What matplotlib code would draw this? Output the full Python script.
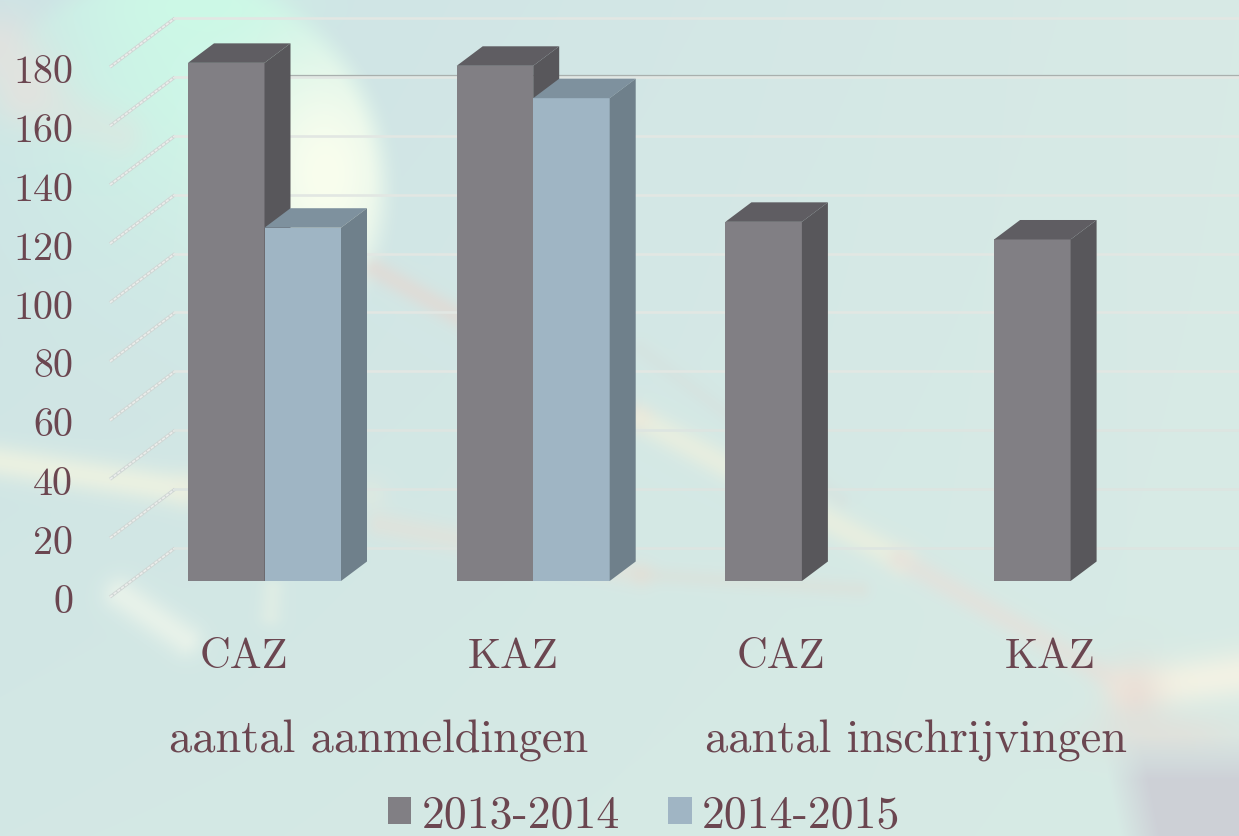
import numpy as np
import matplotlib
matplotlib.use("Agg")
import matplotlib.pyplot as plt
from matplotlib.patches import Patch, Polygon
from matplotlib.transforms import offset_copy, ScaledTranslation

plt.rcParams['font.family'] = ['cmr10', 'DejaVu Serif']
plt.rcParams['axes.formatter.use_mathtext'] = True

# ---- data ----
categories = ["CAZ", "KAZ", "CAZ", "KAZ"]
groups = ["aantal aanmeldingen", "aantal inschrijvingen"]
series_names = ["2013-2014", "2014-2015"]
values_2013 = [176, 175, 122, 116]
values_2014 = [120, 164, None, None]
y_ticks = [0, 20, 40, 60, 80, 100, 120, 140, 160, 180]

W, H = 1239, 837
TXT = "#6b4650"
PX_PER_UNIT = 2.944
PX_PER_CAT = 268.7
Y0_PX, X0_PX = 598, 244


def background():
    X, Y = np.meshgrid(np.arange(W), np.arange(H))
    t = (X / W)[..., None]
    img = (1 - t) * np.array([205., 227., 229.]) + t * np.array([216., 234., 230.])
    g = np.clip(Y / H, 0, 1)[..., None]
    img = img * (1 - 0.6 * g) + np.array([215., 235., 228.]) * 0.6 * g

    def blend(a, col):
        nonlocal img
        a = np.clip(a, 0, 1)[..., None]
        img = img * (1 - a) + np.array(col, float) * a

    def streak(p0, p1, w, col, al):
        p0 = np.array(p0, float); p1 = np.array(p1, float)
        d = p1 - p0
        u = np.clip(((X - p0[0]) * d[0] + (Y - p0[1]) * d[1]) / (d @ d), 0, 1)
        dist = np.hypot(X - p0[0] - u * d[0], Y - p0[1] - u * d[1])
        blend(al * np.exp(-(dist / w) ** 2), col)

    # large sphere
    r = np.hypot(X - 170, Y - 190)
    inside = np.clip((232 - r) / 35, 0, 1)
    inside = inside * inside * (3 - 2 * inside)
    blend(inside * np.exp(-((X - 200) / 170.) ** 2 - ((Y - 50) / 190.) ** 2) * 0.98, (204, 247, 231))
    blend(inside * np.exp(-((X - 325) / 85.) ** 2 - ((Y - 175) / 130.) ** 2) * 1.0, (249, 254, 238))
    blend(np.exp(-((X - 200) / 90.) ** 2 - ((Y - 5) / 35.) ** 2) * 0.7, (204, 250, 230))
    # smears, streaks
    streak((0, 50), (25, 85), 38, (230, 226, 222), .75)
    streak((30, 100), (120, 135), 24, (228, 226, 222), .4)
    streak((0, 462), (180, 490), 17, (240, 243, 225), .8)
    streak((370, 495), (190, 490), 18, (235, 235, 220), .35)
    streak((380, 525), (640, 575), 14, (232, 224, 214), .5)
    streak((640, 575), (860, 590), 10, (226, 218, 208), .3)
    streak((375, 270), (640, 420), 12, (228, 216, 210), .65)
    streak((640, 350), (840, 500), 10, (214, 225, 222), .5)
    streak((640, 420), (900, 560), 15, (238, 240, 222), .7)
    streak((900, 560), (1130, 690), 13, (230, 224, 218), .65)
    streak((120, 595), (185, 640), 17, (238, 245, 235), .75)
    streak((272, 590), (270, 615), 12, (233, 241, 228), .5)
    streak((1130, 690), (1239, 675), 24, (246, 243, 228), .85)
    blend(np.exp(-((X - 1135) / 30.) ** 2 - ((Y - 695) / 35.) ** 2) * .5, (226, 208, 204))
    blend(np.exp(-((X - 1170) / 80.) ** 2 - ((Y - 735) / 22.) ** 2) * .55, (230, 220, 214))
    # grey lower-right corner
    grey = np.clip((X - 1092 - (Y - 700) * 0.2) / 40, 0, 1) * np.clip((Y - 735) / 45, 0, 1)
    blend(grey * .95, (205, 207, 214))
    return np.clip(img, 0, 255).astype(np.uint8)


fig = plt.figure(figsize=(W / 100, H / 100), dpi=100)
bg = fig.add_axes([0, 0, 1, 1], zorder=0)
bg.imshow(background(), aspect='auto', interpolation='bilinear')
bg.axis('off')

ax = fig.add_axes([0, 0, 1, 1], zorder=1)
ax.patch.set_alpha(0)
ax.set_xlim(-X0_PX / PX_PER_CAT, (W - X0_PX) / PX_PER_CAT)
ax.set_ylim(-(H - Y0_PX) / PX_PER_UNIT, Y0_PX / PX_PER_UNIT)

for s in ax.spines.values():
    s.set_visible(False)
ax.spines['left'].set_position(('data', (110 - X0_PX) / PX_PER_CAT))
ax.spines['bottom'].set_position(('data', -12.0))
ax.set_yticks(y_ticks, [str(v) for v in y_ticks])
ax.set_xticks(range(len(categories)), categories)
ax.tick_params(axis='y', length=0, pad=26.5, labelsize=28.8, labelcolor=TXT)
ax.tick_params(axis='x', length=0, pad=4, labelsize=30.7, labelcolor=TXT)
shift = ScaledTranslation(0, -5 / 100, fig.dpi_scale_trans)
for lbl in ax.get_yticklabels():
    lbl.set_verticalalignment('center')
    lbl.set_transform(lbl.get_transform() + shift)

# back wall + side wall gridlines
wall = offset_copy(ax.transData, fig=fig, x=65, y=49, units='dots')
x_left = (110 - X0_PX) / PX_PER_CAT
x_right = (W - X0_PX) / PX_PER_CAT
for v in y_ticks:
    xs = [x_left, x_left + 65 / PX_PER_CAT]
    ys = [v, v + 49 / PX_PER_UNIT]
    ax.plot(xs, ys, color='#cfd6d4', lw=2.4, zorder=2, solid_capstyle='butt')
    ax.plot(xs, ys, color='#eceeec', lw=1.2, ls=(0, (2.0, 0.8)), zorder=2)
    ax.plot([x_left + 65 / PX_PER_CAT, x_right], [v + 49 / PX_PER_UNIT] * 2,
            color='#dde5e1' if v < 60 else '#e2e7e3', lw=1.9, zorder=2)
ax.plot([x_left + 65 / PX_PER_CAT, x_right], [160.6, 160.6], transform=wall,
        color='#a9b0ae', lw=0.9, zorder=2)

# bars
bars = offset_copy(ax.transData, fig=fig, x=20.5, y=16, units='dots')
BW = 76.5 / PX_PER_CAT
DX, DY = 26 / PX_PER_CAT, 19.5 / PX_PER_UNIT


def box(x, v, front, top, side, z):
    ax.bar(x, v, BW, align='edge', color=front, transform=bars, zorder=z, linewidth=0)
    ax.add_patch(Polygon([(x, v), (x + BW, v), (x + BW + DX, v + DY), (x + DX, v + DY)],
                         closed=True, fc=top, ec='none', transform=bars, zorder=z))
    ax.add_patch(Polygon([(x + BW, 0), (x + BW + DX, DY), (x + BW + DX, v + DY), (x + BW, v)],
                         closed=True, fc=side, ec='none', transform=bars, zorder=z))


for i, (a, b) in enumerate(zip(values_2013, values_2014)):
    box(i - BW, a, '#817f84', '#5f5d62', '#58575b', 3)
    if b is not None:
        box(i, b, '#9fb5c4', '#7e919e', '#6f808b', 4)

# group labels
for pos, name in zip([0.5, 2.5], groups):
    ax.text(pos, -52.4, name, ha='center', va='baseline', fontsize=33.3, color=TXT)

# legend
handles = [Patch(fc='#817f84', ec='none', label=series_names[0]),
           Patch(fc='#a0b5c4', ec='none', label=series_names[1])]
ax.legend(handles=handles, ncol=2, loc='lower left', bbox_to_anchor=(387.5 / W, 0.0),
          frameon=False, fontsize=33.0, labelcolor=TXT, handlelength=0.52, handleheight=0.52,
          handletextpad=0.22, columnspacing=1.05, borderpad=0.0, borderaxespad=0)

fig.savefig("out.png", dpi=100)
